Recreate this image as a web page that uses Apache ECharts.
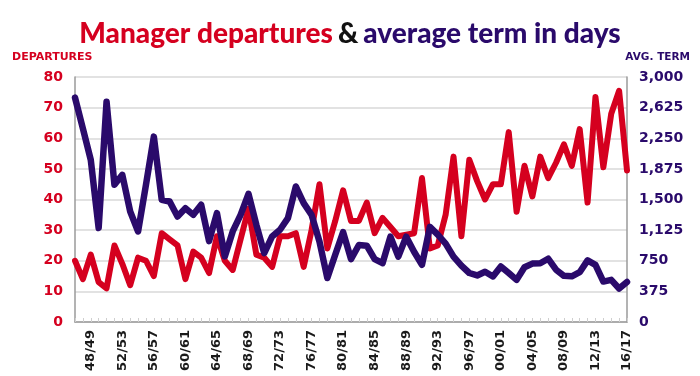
<!DOCTYPE html>
<html>
<head>
<meta charset="utf-8">
<script src="https://cdn.jsdelivr.net/npm/echarts@6/dist/echarts.min.js"></script>
<style>
html,body{margin:0;padding:0;background:#fff;}
#c{width:700px;height:376px;}
</style>
</head>
<body>
<div id="c"></div>
<script>
const seasons = [];
for (let y = 1946; y <= 2016; y++) {
  seasons.push(String(y % 100).padStart(2, '0') + '/' + String((y + 1) % 100).padStart(2, '0'));
}
const departures = [20,14,22,13,11,25,19,12,21,20,15,29,27,25,14,23,21,16,28,20,
  17,27,37,22,21,18,28,28,29,18,30,45,24,33,43,33,33,39,29,34,
  31,28,28.5,29,47,24,25,35,54,28,53,46,40,45,45,62,36,51,41,54,
  47,52,58,51,63,39,73.5,50.5,68,75.5,49.5];
const avgTerm = [2747,2370,1985,1150,2698,1680,1802,1353,1109,1680,2270,1496,1475,1292,1394,1312,1435,990,1333,803,
  1109,1312,1570,1190,844,1048,1129,1272,1659,1455,1312,986,538,823,1100,770,943,935,770,720,
  1045,800,1045,860,700,1165,1070,960,800,690,600,570,615,558,680,600,516,670,715,720,
  775,640,565,560,610,755,700,495,516,410,490];
const leftTicks = {min: 0, max: 80, step: 10};
const rightTicks = {min: 0, max: 3000, step: 375};

const RED = '#d5001f';
const NAVY = '#2a0a6b';
const chart = echarts.init(document.getElementById('c'));
chart.setOption({
  animation: false,
  backgroundColor: '#fff',
  title: {
    text: '{r|Manager departures} {k|&} {b|average term in days}',
    left: 'center',
    top: 15,
    textStyle: {
      rich: {
        r: {color: RED, fontFamily: 'Lato', fontWeight: 900, fontSize: 28},
        k: {color: '#111', fontFamily: 'Lato', fontWeight: 900, fontSize: 28},
        b: {color: NAVY, fontFamily: 'Lato', fontWeight: 900, fontSize: 28}
      }
    }
  },
  graphic: [
    {type: 'text', left: 12, top: 52, style: {text: 'DEPARTURES', fill: RED, font: 'bold 11px "DejaVu Sans"'}},
    {type: 'text', right: 10, top: 52, style: {text: 'AVG. TERM', fill: NAVY, font: 'bold 10.5px "DejaVu Sans"'}}
  ],
  grid: {left: 75, right: 73, top: 77, bottom: 54},
  xAxis: {
    type: 'category',
    data: seasons,
    boundaryGap: false,
    axisLine: {lineStyle: {color: '#9a9a9a', width: 1.5}},
    axisTick: {show: true, inside: true, length: 4, interval: 0, lineStyle: {color: '#cfcfcf'}},
    axisLabel: {
      interval: function (i) { return i % 4 === 2; },
      rotate: 90,
      color: '#1a1a1a',
      fontFamily: 'DejaVu Sans',
      fontWeight: 'bold',
      fontSize: 13,
      margin: 8
    },
    splitLine: {show: false}
  },
  yAxis: [
    {
      type: 'value', min: leftTicks.min, max: leftTicks.max, interval: leftTicks.step,
      position: 'left',
      axisLine: {show: true, lineStyle: {color: '#9a9a9a', width: 1.5}},
      axisTick: {show: false},
      axisLabel: {color: RED, fontFamily: 'DejaVu Sans', fontWeight: 'bold', fontSize: 14, margin: 12},
      splitLine: {lineStyle: {color: '#e2e2e2', width: 2}}
    },
    {
      type: 'value', min: rightTicks.min, max: rightTicks.max, interval: rightTicks.step,
      position: 'right',
      axisLine: {show: true, lineStyle: {color: '#9a9a9a', width: 1.5}},
      axisTick: {show: false},
      axisLabel: {color: NAVY, fontFamily: 'DejaVu Sans', fontWeight: 'bold', fontSize: 14, margin: 12,
        formatter: function (v) { return v.toLocaleString('en-US'); }},
      splitLine: {show: false}
    }
  ],
  series: [
    {
      name: 'Departures', type: 'line', yAxisIndex: 0, data: departures,
      showSymbol: false, lineStyle: {color: RED, width: 6, join: 'round', cap: 'round'}, itemStyle: {color: RED}
    },
    {
      name: 'Average term', type: 'line', yAxisIndex: 1, data: avgTerm,
      showSymbol: false, lineStyle: {color: NAVY, width: 6.5, join: 'round', cap: 'round'}, itemStyle: {color: NAVY}
    }
  ]
});
</script>
</body>
</html>
